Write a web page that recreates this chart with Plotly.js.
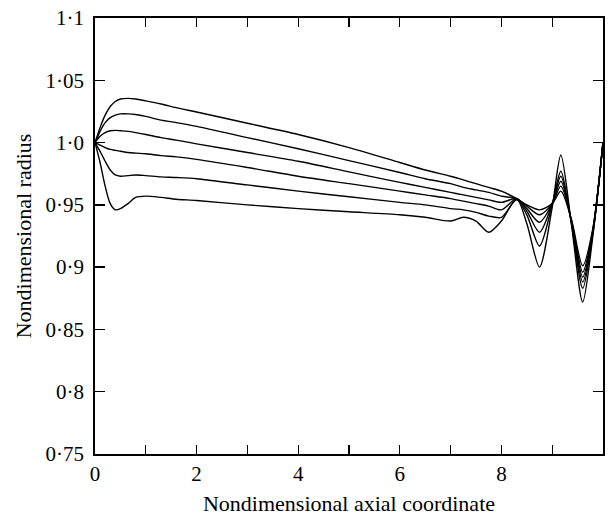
<!DOCTYPE html>
<html>
<head>
<meta charset="utf-8">
<script src="https://cdn.plot.ly/plotly-3.0.1.min.js"></script>
<style>
html,body{margin:0;padding:0;background:#fff;}
#chart{width:613px;height:520px;}
</style>
</head>
<body>
<div id="chart"></div>
<script>
// Axial coordinate samples
const xAxial = [0, 0.1, 0.2, 0.3, 0.4, 0.5, 0.65, 0.8, 1.0, 1.3, 1.6, 2, 3, 4, 5, 6, 6.5, 7.0, 7.25, 7.5, 7.75, 8.0, 8.3, 8.5, 8.75, 9.0, 9.17, 9.38, 9.6, 9.8, 10];

// Nondimensional radius for six profiles (top to bottom at x≈1)
const radius1 = [1.0, 1.012, 1.022, 1.029, 1.033, 1.035, 1.0355, 1.035, 1.0335, 1.031, 1.028, 1.0245, 1.0155, 1.0065, 0.996, 0.984, 0.978, 0.973, 0.970, 0.967, 0.964, 0.961, 0.955, 0.950, 0.946, 0.951, 0.961, 0.938, 0.901, 0.931, 1.0];
const radius2 = [1.0, 1.009, 1.016, 1.020, 1.022, 1.023, 1.023, 1.0225, 1.021, 1.018, 1.016, 1.013, 1.004, 0.995, 0.9855, 0.976, 0.971, 0.967, 0.964, 0.962, 0.960, 0.957, 0.955, 0.949, 0.942, 0.951, 0.965, 0.937, 0.896, 0.930, 1.0];
const radius3 = [1.0, 1.005, 1.008, 1.0095, 1.0098, 1.0095, 1.009, 1.008, 1.0065, 1.004, 1.002, 0.999, 0.992, 0.985, 0.9765, 0.968, 0.964, 0.960, 0.958, 0.956, 0.954, 0.952, 0.955, 0.947, 0.936, 0.951, 0.969, 0.937, 0.892, 0.929, 1.0];
const radius4 = [1.0, 0.998, 0.996, 0.9945, 0.9937, 0.993, 0.992, 0.9915, 0.991, 0.9895, 0.9885, 0.9865, 0.980, 0.973, 0.967, 0.961, 0.958, 0.955, 0.953, 0.951, 0.949, 0.946, 0.955, 0.945, 0.928, 0.951, 0.973, 0.936, 0.888, 0.928, 1.0];
const radius5 = [1.0, 0.993, 0.985, 0.978, 0.974, 0.973, 0.9735, 0.974, 0.9735, 0.9725, 0.972, 0.971, 0.966, 0.961, 0.9565, 0.952, 0.950, 0.947, 0.946, 0.944, 0.941, 0.940, 0.954, 0.942, 0.917, 0.950, 0.977, 0.935, 0.883, 0.927, 1.0];
const radius6 = [1.0, 0.984, 0.965, 0.951, 0.946, 0.947, 0.951, 0.956, 0.957, 0.956, 0.9545, 0.9535, 0.950, 0.947, 0.9445, 0.942, 0.940, 0.937, 0.940, 0.937, 0.928, 0.937, 0.955, 0.935, 0.900, 0.948, 0.990, 0.934, 0.872, 0.925, 1.0];

const xTickVals = [0, 1, 2, 3, 4, 5, 6, 7, 8, 9, 10];
const xTickText = ['0', '', '2', '', '4', '', '6', '', '8', '', '10'];
const yTickVals = [0.75, 0.8, 0.85, 0.9, 0.95, 1.0, 1.05, 1.1];
const yTickText = ['0·75', '0·8', '0·85', '0·9', '0·95', '1·0', '1·05', '1·1'];

const allRadii = [radius1, radius2, radius3, radius4, radius5, radius6];
const traces = allRadii.map(r => ({
  x: xAxial, y: r, type: 'scatter', mode: 'lines',
  line: {color: '#000', width: 1.4, shape: 'spline', smoothing: 0.8},
  hoverinfo: 'skip', showlegend: false
}));

const fontFam = '"Liberation Serif", "Times New Roman", serif';
const layout = {
  width: 613, height: 520,
  margin: {l: 95, r: 10, t: 18, b: 66},
  paper_bgcolor: '#fff', plot_bgcolor: '#fff',
  showlegend: false,
  font: {family: fontFam, color: '#000'},
  xaxis: {
    range: [0, 10], tickmode: 'array', tickvals: xTickVals, ticktext: xTickText,
    ticks: 'inside', ticklen: 9, tickwidth: 1.3, tickcolor: '#000',
    showline: true, linecolor: '#000', linewidth: 1.8, mirror: 'allticks',
    showgrid: false, zeroline: false,
    tickfont: {family: fontFam, size: 21, color: '#000'},
    title: {text: 'Nondimensional axial coordinate', font: {family: fontFam, size: 22, color: '#000'}, standoff: 10}
  },
  yaxis: {
    range: [0.75, 1.1], tickmode: 'array', tickvals: yTickVals, ticktext: yTickText,
    ticks: 'inside', ticklen: 10, tickwidth: 1.3, tickcolor: '#000',
    showline: true, linecolor: '#000', linewidth: 1.8, mirror: 'allticks',
    showgrid: false, zeroline: false,
    ticklabelstandoff: 5,
    tickfont: {family: fontFam, size: 21, color: '#000'},
    title: {text: 'Nondimensional radius', font: {family: fontFam, size: 22, color: '#000'}, standoff: 8}
  }
};

Plotly.newPlot('chart', traces, layout, {displayModeBar: false, staticPlot: true});
</script>
</body>
</html>
